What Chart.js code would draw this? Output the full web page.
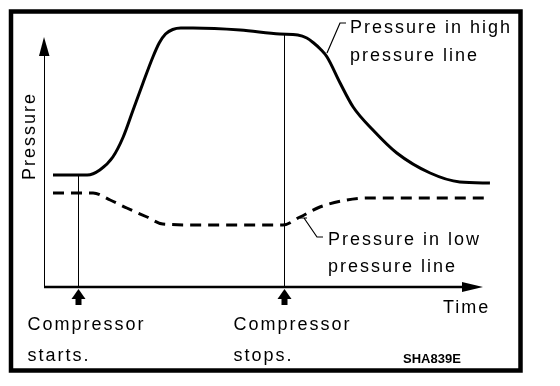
<!DOCTYPE html>
<html>
<head>
<meta charset="utf-8">
<script src="https://cdn.jsdelivr.net/npm/chart.js@4"></script>
<style>
    body { margin: 0; background: #ffffff; }
    canvas { display: block; }
</style>
</head>
<body>
<canvas id="pressure_chart" width="560" height="386"></canvas>
<script>
// time in arbitrary units (0..100), pressure in arbitrary units (0..110)
let highTime  = [2.0, 9.6, 12.4, 15.3, 17.6, 19.8, 22.0, 24.2, 25.6, 27.0, 28.6, 30.4, 33.1, 43.6, 52.4, 56.4, 58.4, 59.8, 61.4, 62.9, 65.8, 68.7, 73.1, 78.4, 85.8, 92.4, 99.1];
let highValue = [44.8, 44.8, 46.8, 52.0, 60.0, 70.8, 81.6, 92.0, 97.6, 101.2, 103.0, 103.6, 103.6, 102.8, 101.2, 100.8, 99.6, 97.8, 95.2, 92.0, 81.6, 72.0, 62.8, 53.6, 45.6, 42.0, 41.6];

let lowTime  = [2.0, 10.9, 14.7, 18.4, 22.9, 26.4, 34.7, 53.1, 56.9, 61.3, 67.3, 71.8, 99.1];
let lowValue = [37.6, 37.6, 34.8, 31.6, 28.0, 25.2, 24.8, 24.8, 28.0, 32.0, 34.8, 35.6, 35.6];

// compressor start / stop times and the high line value there
let eventTime  = [7.6, 53.3];
let eventTop   = [44.8, 101.0];
let eventLabel = [['Compressor', 'starts.'], ['Compressor', 'stops.']];

let seriesLabel = [['Pressure in high', 'pressure line'], ['Pressure in low', 'pressure line']];
let axisLabels = { x: 'Time', y: 'Pressure' };
let figureCode = 'SHA839E';

function toPoints(xs, ys) {
    return xs.map(function (x, i) { return { x: x, y: ys[i] }; });
}

function drawText(ctx, text, x, y, font, spacing) {
    ctx.font = font;
    ctx.letterSpacing = spacing || '0px';
    ctx.fillText(text, x, y);
    ctx.letterSpacing = '0px';
}

let diagramPlugin = {
    id: 'diagram',
    beforeDraw: function (chart) {
        let ctx = chart.ctx;
        ctx.save();
        ctx.fillStyle = '#ffffff';
        ctx.fillRect(0, 0, chart.width, chart.height);
        ctx.restore();
    },
    afterDatasetsDraw: function (chart) {
        let ctx = chart.ctx;
        let xs = chart.scales.x;
        let ys = chart.scales.y;
        let x0 = xs.getPixelForValue(0);
        let y0 = ys.getPixelForValue(0);
        let font = '18px "Liberation Sans", Arial, sans-serif';

        ctx.save();
        ctx.fillStyle = '#000000';
        ctx.strokeStyle = '#000000';

        // frame
        ctx.lineWidth = 4.5;
        ctx.strokeRect(11, 11.5, 509.5, 359);

        // y axis with arrow
        ctx.lineWidth = 1;
        ctx.beginPath();
        ctx.moveTo(x0 + 0.5, y0);
        ctx.lineTo(x0 + 0.5, 50);
        ctx.stroke();
        ctx.beginPath();
        ctx.moveTo(x0, 37);
        ctx.lineTo(x0 - 5, 56);
        ctx.lineTo(x0 + 5.5, 56);
        ctx.closePath();
        ctx.fill();

        // x axis with arrow
        ctx.lineWidth = 2.5;
        ctx.beginPath();
        ctx.moveTo(x0, y0);
        ctx.lineTo(468, y0);
        ctx.stroke();
        ctx.beginPath();
        ctx.moveTo(483, y0);
        ctx.lineTo(462, y0 - 5);
        ctx.lineTo(462, y0 + 5);
        ctx.closePath();
        ctx.fill();

        // compressor start / stop markers
        eventTime.forEach(function (t, i) {
            let px = Math.round(xs.getPixelForValue(t)) + 0.5;
            ctx.lineWidth = 1;
            ctx.beginPath();
            ctx.moveTo(px, ys.getPixelForValue(eventTop[i]));
            ctx.lineTo(px, y0);
            ctx.stroke();

            ctx.beginPath();
            ctx.moveTo(px, y0 + 2);
            ctx.lineTo(px - 7, y0 + 12);
            ctx.lineTo(px + 7, y0 + 12);
            ctx.closePath();
            ctx.fill();
            ctx.fillRect(px - 3, y0 + 11, 6, 7);

            drawText(ctx, eventLabel[i][0], px - 51, 330, font, '2px');
            drawText(ctx, eventLabel[i][1], px - 51, 361, font, '2px');
        });

        // leader for high pressure line
        ctx.lineWidth = 1.2;
        ctx.beginPath();
        ctx.moveTo(346, 23);
        ctx.lineTo(340, 23);
        ctx.lineTo(327, 53);
        ctx.stroke();
        drawText(ctx, seriesLabel[0][0], 350, 33, font, '2px');
        drawText(ctx, seriesLabel[0][1], 350, 61, font, '2px');

        // leader for low pressure line
        ctx.beginPath();
        ctx.moveTo(300, 218);
        ctx.lineTo(307, 218);
        ctx.moveTo(304, 218);
        ctx.lineTo(317, 237);
        ctx.lineTo(323, 237);
        ctx.stroke();
        drawText(ctx, seriesLabel[1][0], 328, 245, font, '2px');
        drawText(ctx, seriesLabel[1][1], 328, 272, font, '2px');

        // axis titles
        drawText(ctx, axisLabels.x, 443, 313, font, '2px');
        ctx.save();
        ctx.translate(35, 136);
        ctx.rotate(-Math.PI / 2);
        ctx.textAlign = 'center';
        drawText(ctx, axisLabels.y, 0, 0, font, '2px');
        ctx.restore();

        drawText(ctx, figureCode, 403, 363, 'bold 13px "Liberation Sans", Arial, sans-serif');
        ctx.restore();
    }
};

let ctx = document.getElementById('pressure_chart').getContext('2d');

let pressure_chart = new Chart(ctx, {
    type: 'line',
    data: {
        datasets: [
            {
                label: seriesLabel[0].join(' '),
                data: toPoints(highTime, highValue),
                borderColor: '#000000',
                borderWidth: 3,
                cubicInterpolationMode: 'monotone',
                pointRadius: 0,
                fill: false
            },
            {
                label: seriesLabel[1].join(' '),
                data: toPoints(lowTime, lowValue),
                borderColor: '#000000',
                borderWidth: 3,
                borderDash: [11, 7],
                cubicInterpolationMode: 'monotone',
                pointRadius: 0,
                fill: false
            }
        ]
    },
    options: {
        responsive: false,
        animation: false,
        layout: {
            padding: { left: 44, right: 66, top: 12, bottom: 99 }
        },
        scales: {
            x: { type: 'linear', min: 0, max: 100, display: false },
            y: { type: 'linear', min: 0, max: 110, display: false }
        },
        plugins: {
            legend: { display: false },
            tooltip: { enabled: false }
        }
    },
    plugins: [diagramPlugin]
});
</script>
</body>
</html>
